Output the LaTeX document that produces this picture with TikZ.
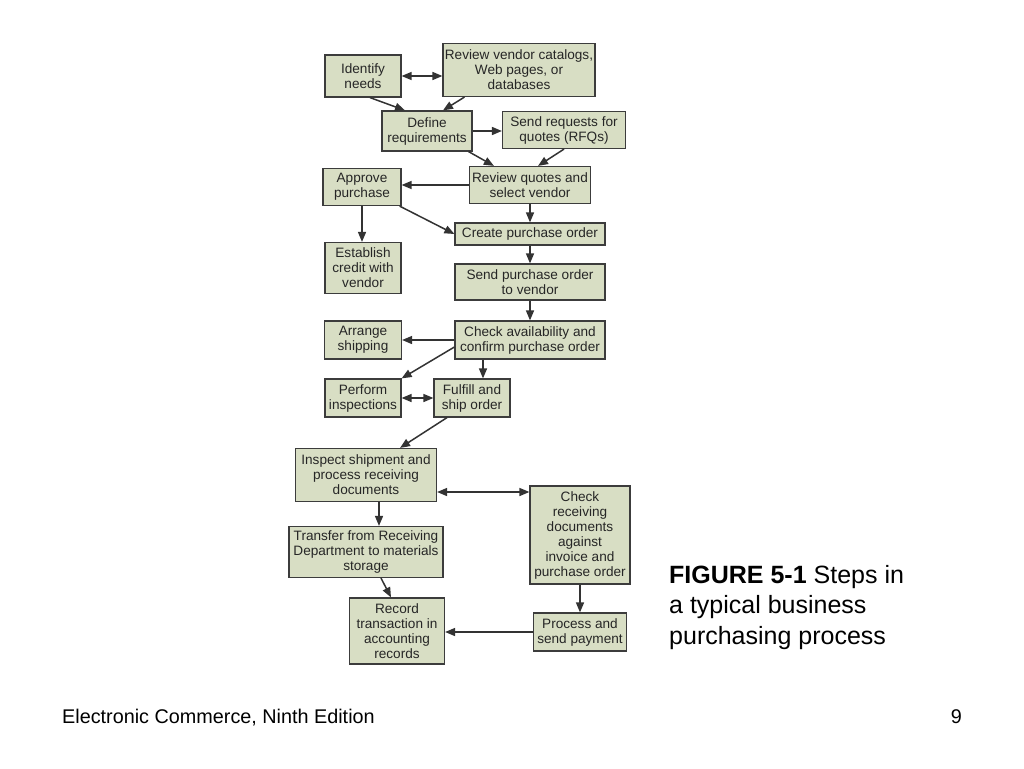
\documentclass[tikz,border=0pt]{standalone}
\usepackage{fontspec}
\setmainfont{Liberation Sans}
\usetikzlibrary{arrows.meta}
\definecolor{boxfill}{RGB}{216,222,196}
\definecolor{boxline}{RGB}{60,60,60}
\tikzset{
    box/.style={draw=boxline, fill=boxfill, line width=1.2pt, align=center, inner sep=1pt,
        font=\fontsize{13.6}{15}\selectfont, text=black!85},
    arr/.style={draw=black!80, line width=1.5pt, -{Triangle[length=10pt,width=8pt]}},
    arrboth/.style={arr, {Triangle[length=10pt,width=8pt]}-{Triangle[length=10pt,width=8pt]}}
}
\begin{document}
\begin{tikzpicture}[x=1pt, y=-1pt]
        \useasboundingbox [fill=white] (0, 0) rectangle (1024, 768);
        % boxes
        \node [box, minimum width=76pt, minimum height=42pt] (identify) at (363, 76) {Identify\\needs};
        \node [box, minimum width=152pt, minimum height=53pt] (catalogs) at (519, 70) {Review vendor catalogs,\\Web pages, or\\databases};
        \node [box, minimum width=90pt, minimum height=40pt] (define) at (427, 131) {Define\\requirements};
        \node [box, minimum width=123pt, minimum height=37pt] (rfq) at (564, 130) {Send requests for\\quotes (RFQs)};
        \node [box, minimum width=121pt, minimum height=37pt] (review) at (530, 185) {Review quotes and\\select vendor};
        \node [box, minimum width=78pt, minimum height=37pt] (approve) at (362, 187) {Approve\\purchase};
        \node [box, minimum width=150pt, minimum height=22pt] (create) at (530, 234) {Create purchase order};
        \node [box, minimum width=76pt, minimum height=51pt] (credit) at (363, 268) {Establish\\credit with\\vendor};
        \node [box, minimum width=150pt, minimum height=36pt] (sendpo) at (530, 282) {Send purchase order\\to vendor};
        \node [box, minimum width=150pt, minimum height=38pt] (check) at (530, 340) {Check availability and\\confirm purchase order};
        \node [box, minimum width=77pt, minimum height=38pt] (shipping) at (363, 340) {Arrange\\shipping};
        \node [box, minimum width=76pt, minimum height=38pt] (inspections) at (363, 398) {Perform\\inspections};
        \node [box, minimum width=76pt, minimum height=38pt] (fulfill) at (472, 398) {Fulfill and\\ship order};
        \node [box, minimum width=141pt, minimum height=53pt] (inspect) at (366, 475) {Inspect shipment and\\process receiving\\documents};
        \node [box, minimum width=100pt, minimum height=98pt] (checkrecv) at (580, 535) {Check\\receiving\\documents\\against\\invoice and\\purchase order};
        \node [box, minimum width=154pt, minimum height=51pt] (transfer) at (366, 552) {Transfer from Receiving\\Department to materials\\storage};
        \node [box, minimum width=95pt, minimum height=66pt] (record) at (397, 631) {Record\\transaction in\\accounting\\records};
        \node [box, minimum width=93pt, minimum height=38pt] (payment) at (580, 632) {Process and\\send payment};
        % connectors
        \draw [arrboth] (identify.east) -- (identify.east -| catalogs.west);
        \draw [arr] ([xshift=7pt]identify.south) -- ([xshift=-22pt]define.north);
        \draw [arr] ([xshift=22pt]catalogs.south west) -- ([xshift=16pt]define.north);
        \draw [arr] (define.east) -- (define.east -| rfq.west);
        \draw [arr] ([xshift=-4pt]define.south east) -- ([xshift=25pt]review.north west);
        \draw [arr] (rfq.south) -- ([xshift=8pt]review.north);
        \draw [arr] (review.west) -- (review.west -| approve.east);
        \draw [arr] (review.south) -- (create.north);
        \draw [arr] (approve.south) -- (approve.south |- credit.north);
        \draw [arr] ([xshift=-2pt]approve.south east) -- (create.west);
        \draw [arr] (create.south) -- (sendpo.north);
        \draw [arr] (sendpo.south) -- (check.north);
        \draw [arr] (check.west) -- (check.west -| shipping.east);
        \draw [arr] ([yshift=-7pt]check.west) -- (inspections.north east);
        \draw [arr] ([xshift=11pt]fulfill.north |- check.south) -- ([xshift=11pt]fulfill.north);
        \draw [arrboth] (inspections.east) -- (fulfill.west);
        \draw [arr] ([xshift=-25pt]fulfill.south) -- ([xshift=34pt]inspect.north);
        \draw [arrboth] ([yshift=-17pt]inspect.east) -- ([yshift=-17pt]inspect.east -| checkrecv.west);
        \draw [arr] ([xshift=13pt]inspect.south) -- ([xshift=13pt]inspect.south |- transfer.north);
        \draw [arr] ([xshift=15pt]transfer.south) -- ([xshift=-6pt]record.north);
        \draw [arr] (checkrecv.south) -- (payment.north);
        \draw [arr] (payment.west) -- (payment.west -| record.east);
        % caption and footer
        \node [anchor=base west, align=left, font=\fontsize{25}{30.5}\selectfont, inner sep=0pt] (caption) at (669, 644)
            {\textbf{FIGURE 5-1} Steps in\\a typical business\\purchasing process};
        \node [anchor=base west, font=\fontsize{19.8}{22}\selectfont, inner sep=0pt] (footer) at (62, 723) {Electronic Commerce, Ninth Edition};
        \node [anchor=base east, font=\fontsize{19.8}{22}\selectfont, inner sep=0pt] (page) at (962, 723) {9};
    \end{tikzpicture}
\end{document}
